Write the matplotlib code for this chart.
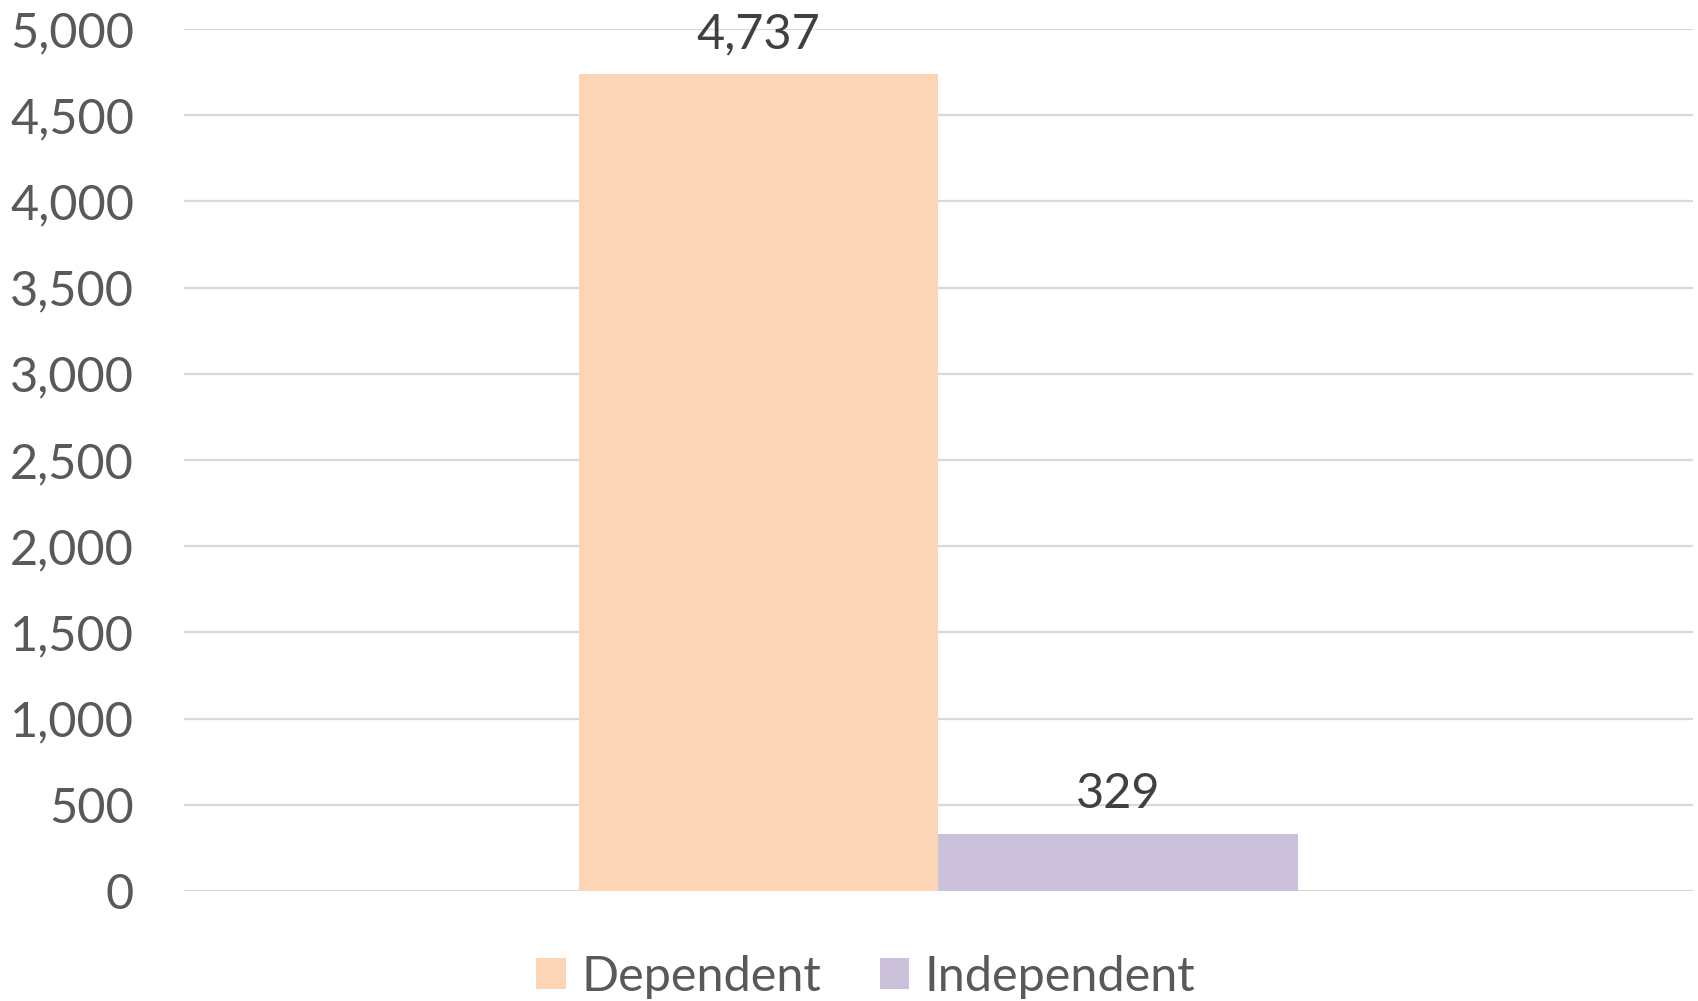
import matplotlib.pyplot as plt
from matplotlib.ticker import FuncFormatter, MultipleLocator

plt.rcParams['font.family'] = ['Lato', 'DejaVu Sans']

series = ['Dependent', 'Independent']
values = [4737, 329]
colors = ['#fbd5b5', '#ccc1da']

fig = plt.figure(figsize=(16.98, 10.01), dpi=100)
ax = fig.add_axes([0.1084, 0.1099, 0.8886, 0.8611])

width = 0.25
offsets = [-width / 2, width / 2]
for name, val, col, off in zip(series, values, colors, offsets):
    ax.bar(off, val, width=width, color=col, label=name, zorder=2)
    ax.annotate(f"{val:,}", (off, val), xytext=(0, 19), textcoords='offset points',
                ha='center', va='baseline', fontsize=35, color='#404040')

ax.set_xlim(-0.524, 0.524)
ax.set_ylim(0, 5000)
ax.yaxis.set_major_locator(MultipleLocator(500))
ax.yaxis.set_major_formatter(FuncFormatter(lambda v, p: f"{int(v):,}"))
ax.set_xticks([])
ax.grid(axis='y', color='#d9d9d9', linewidth=1.6, zorder=0)
ax.tick_params(axis='y', length=0, pad=36, labelsize=35, labelcolor='#595959')
for s in ax.spines.values():
    s.set_visible(False)
ax.axhline(0, color='#d9d9d9', linewidth=1.6, zorder=1)
ax.set_axisbelow(True)

fig.legend(loc='center', bbox_to_anchor=(0.51, 0.024), ncol=2, frameon=False,
           fontsize=35, labelcolor='#595959', handlelength=0.6, handleheight=0.6,
           handletextpad=0.33, columnspacing=1.2)

fig.savefig('out.png', dpi=100)
